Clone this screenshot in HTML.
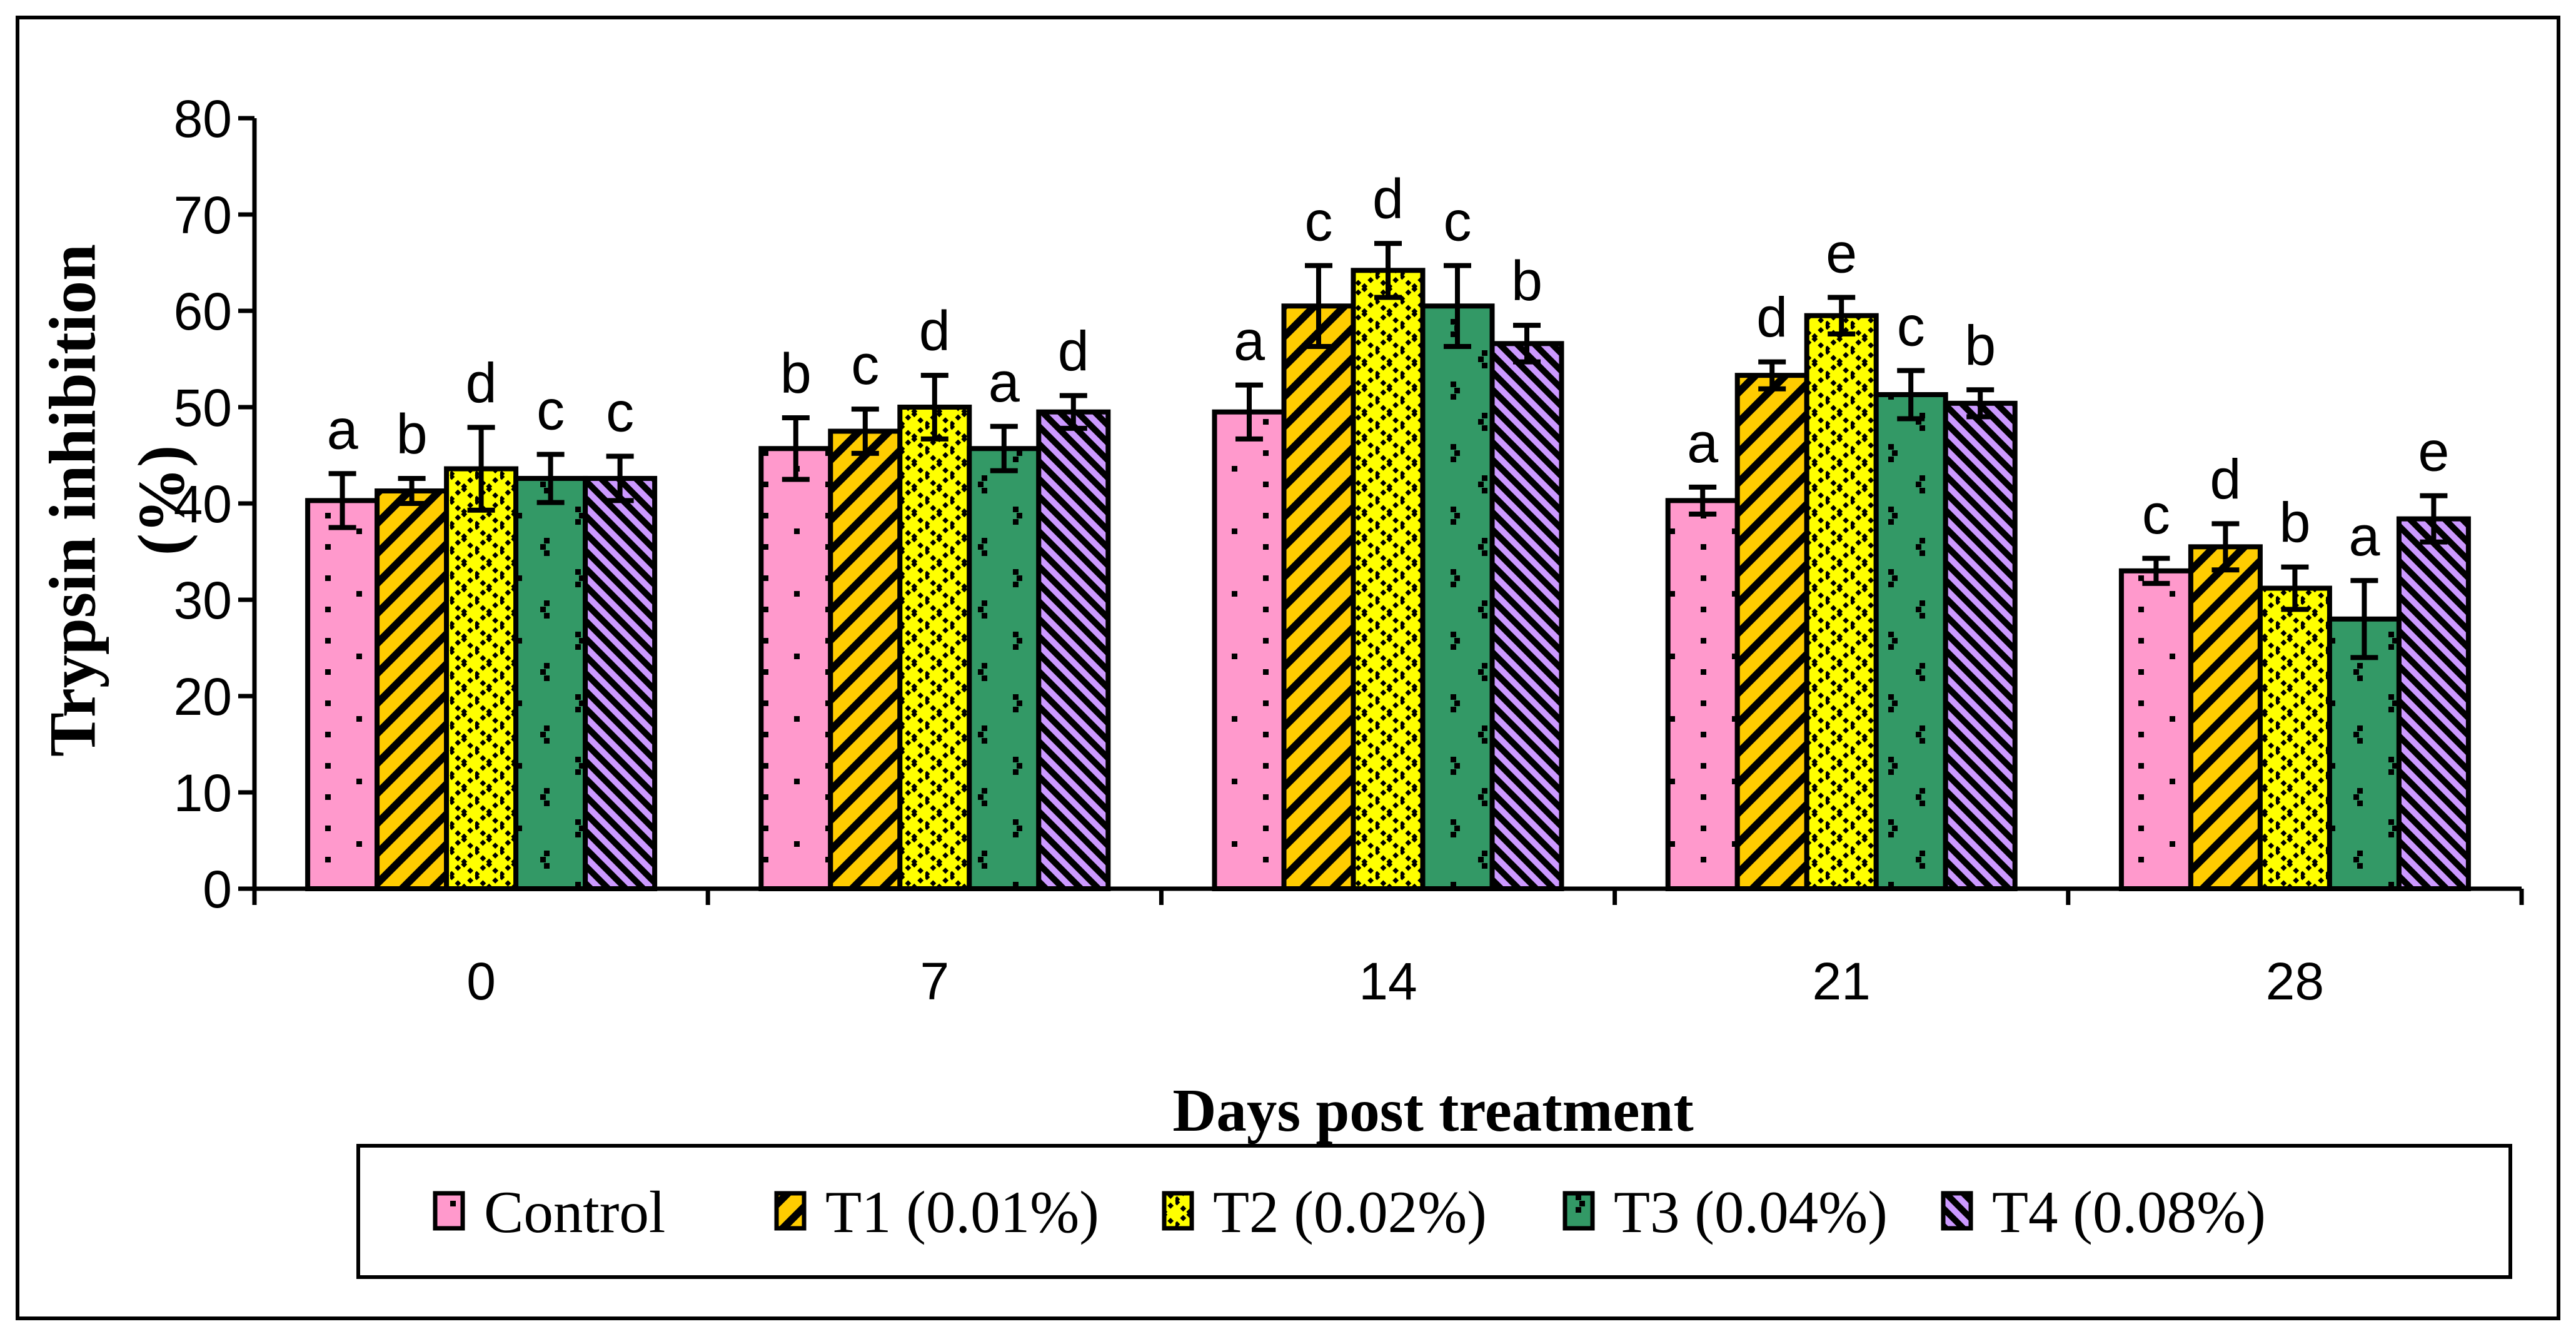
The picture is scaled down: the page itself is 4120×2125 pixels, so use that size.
<!DOCTYPE html>
<html><head><meta charset="utf-8"><style>
html,body{margin:0;padding:0;background:#fff;width:4120px;height:2125px;overflow:hidden}
svg{display:block}
</style></head><body>
<svg id="chart" width="4120" height="2125" xmlns="http://www.w3.org/2000/svg">
<defs>
<pattern id="p0" width="100" height="100" patternUnits="userSpaceOnUse"><rect width="100" height="100" fill="#FF99CC"/><rect x="20" y="20" width="9" height="9" fill="#000"/><rect x="70" y="45" width="9" height="9" fill="#000"/><rect x="20" y="70" width="9" height="9" fill="#000"/></pattern>
<pattern id="p1" width="48" height="48" patternUnits="userSpaceOnUse"><rect width="48" height="48" fill="#FFCC00"/><path d="M-12,60 L60,-12" stroke="#000" stroke-width="12"/><path d="M-36,36 L36,-36" stroke="#000" stroke-width="12"/><path d="M12,84 L84,12" stroke="#000" stroke-width="12"/></pattern>
<pattern id="p2" width="40" height="40" patternUnits="userSpaceOnUse"><rect width="40" height="40" fill="#FFFF00"/><path d="M0,0 L20,20 L40,0 M0,40 L20,20 L40,40" stroke="#000" stroke-width="7" stroke-dasharray="7 7" fill="none"/></pattern>
<pattern id="p3" width="100" height="100" patternUnits="userSpaceOnUse"><rect width="100" height="100" fill="#339966"/><rect x="20" y="10" width="9" height="9" fill="#000"/><rect x="26" y="20" width="9" height="9" fill="#000"/><rect x="20" y="30" width="9" height="9" fill="#000"/><rect x="70" y="60" width="9" height="9" fill="#000"/><rect x="64" y="70" width="9" height="9" fill="#000"/><rect x="70" y="80" width="9" height="9" fill="#000"/></pattern>
<pattern id="p4" width="28" height="28" patternUnits="userSpaceOnUse"><rect width="28" height="28" fill="#CC99FF"/><path d="M-7,-7 L35,35 M-7,21 L7,35 M21,-7 L35,7" stroke="#000" stroke-width="10"/></pattern>
</defs>
<rect x="28" y="28" width="4064" height="2080" fill="none" stroke="#000" stroke-width="6"/>
<g id="plot"></g>
<text transform="translate(116,800) rotate(-90)" text-anchor="middle" dominant-baseline="central" font-family="Liberation Serif, serif" font-weight="bold" font-size="106">Trypsin inhibition</text>
<text transform="translate(258,800) rotate(-90)" text-anchor="middle" dominant-baseline="central" font-family="Liberation Serif, serif" font-weight="bold" font-size="106">(%)</text>
<text x="2292" y="1808" text-anchor="middle" font-family="Liberation Serif, serif" font-weight="bold" font-size="97">Days post treatment</text>
<g>
<rect x="573" y="1832" width="3442" height="210" fill="none" stroke="#000" stroke-width="6"/>
</g>
<g id="legend"></g>
</svg>
<script>
const categories=["0","7","14","21","28"];
const seriesNames=["Control","T1 (0.01%)","T2 (0.02%)","T3 (0.04%)","T4 (0.08%)"];
const control=[40.3,45.7,49.5,40.3,33.0];
const t1=[41.3,47.5,60.5,53.3,35.5];
const t2=[43.6,50.0,64.2,59.5,31.2];
const t3=[42.6,45.7,60.5,51.3,28.0];
const t4=[42.6,49.5,56.6,50.4,38.4];
const errControl=[2.8,3.2,2.8,1.4,1.3];
const errT1=[1.3,2.3,4.2,1.4,2.4];
const errT2=[4.3,3.3,2.8,1.9,2.2];
const errT3=[2.5,2.3,4.2,2.5,4.0];
const errT4=[2.3,1.7,1.9,1.4,2.4];
const lettersControl=["a","b","a","a","c"];
const lettersT1=["b","c","c","d","d"];
const lettersT2=["d","d","d","e","b"];
const lettersT3=["c","a","c","c","a"];
const lettersT4=["c","d","b","b","e"];
const yTicks=[0,10,20,30,40,50,60,70,80];

const series=[control,t1,t2,t3,t4];
const errs=[errControl,errT1,errT2,errT3,errT4];
const lets=[lettersControl,lettersT1,lettersT2,lettersT3,lettersT4];
const NS="http://www.w3.org/2000/svg";
const X0=407,X1=4033,Y0=1421,Y80=189;
const catW=(X1-X0)/categories.length, barW=111;
function y(v){return Y0-(v/80)*(Y0-Y80);}
function xBar(c,s){return X0+c*catW+(catW-5*barW)/2+s*barW;}
function mk(tag,attrs,parent){const e=document.createElementNS(NS,tag);for(const k in attrs)e.setAttribute(k,attrs[k]);(parent||plot).appendChild(e);return e;}
const plot=document.getElementById('plot');
const lg=document.getElementById('legend');
for(let s=0;s<5;s++){for(let c=0;c<categories.length;c++){
 const v=series[s][c],bx=xBar(c,s);
 const r=mk('rect',{x:bx,y:y(v),width:barW,height:Y0-y(v),fill:'url(#p'+s+')',stroke:'#000','stroke-width':8});
 
 
}}
for(let s=0;s<5;s++){for(let c=0;c<categories.length;c++){
 const v=series[s][c],e=errs[s][c],cx=xBar(c,s)+barW/2;
 const g=mk('g',{stroke:'#000','stroke-width':8});
 
 
 mk('line',{x1:cx,x2:cx,y1:y(v+e),y2:y(v-e)},g);
 mk('line',{x1:cx-22,x2:cx+22,y1:y(v+e),y2:y(v+e)},g);
 mk('line',{x1:cx-22,x2:cx+22,y1:y(v-e),y2:y(v-e)},g);
 const t=mk('text',{x:cx,y:y(v+e)-40,'text-anchor':'middle','font-family':'Liberation Sans, sans-serif','font-size':90});
 t.textContent=lets[s][c];
 
 
}}
const ax=mk('g',{stroke:'#000','stroke-width':7});


mk('line',{x1:X0,x2:X0,y1:Y80,y2:Y0+3},ax);
mk('line',{x1:X0,x2:X1,y1:Y0,y2:Y0},ax);
for(const t of yTicks){
 mk('line',{x1:X0-26,x2:X0,y1:y(t),y2:y(t)},ax);
 const tx=mk('text',{x:X0-36,y:y(t)+30,'text-anchor':'end','font-family':'Liberation Sans, sans-serif','font-size':84});
 tx.textContent=t;
 
 
}
for(let c=0;c<=categories.length;c++) mk('line',{x1:X0+c*catW,x2:X0+c*catW,y1:Y0,y2:Y0+26},ax);
categories.forEach((cat,c)=>{
 const tx=mk('text',{x:X0+(c+0.5)*catW,y:1598,'text-anchor':'middle','font-family':'Liberation Sans, sans-serif','font-size':84});
 tx.textContent=cat;
 
 
});
const legX=[712,1258,1878,2519,3124];
seriesNames.forEach((n,s)=>{
 const sw=mk('rect',{x:legX[s]-16,y:1908,width:44,height:56,fill:'url(#p'+s+')',stroke:'#000','stroke-width':7},lg);
 
 
 const t=mk('text',{x:legX[s]+62,y:1970,'font-family':'Liberation Serif, serif','font-size':95},lg);
 t.textContent=n;
 
 
});
</script>
</body></html>
